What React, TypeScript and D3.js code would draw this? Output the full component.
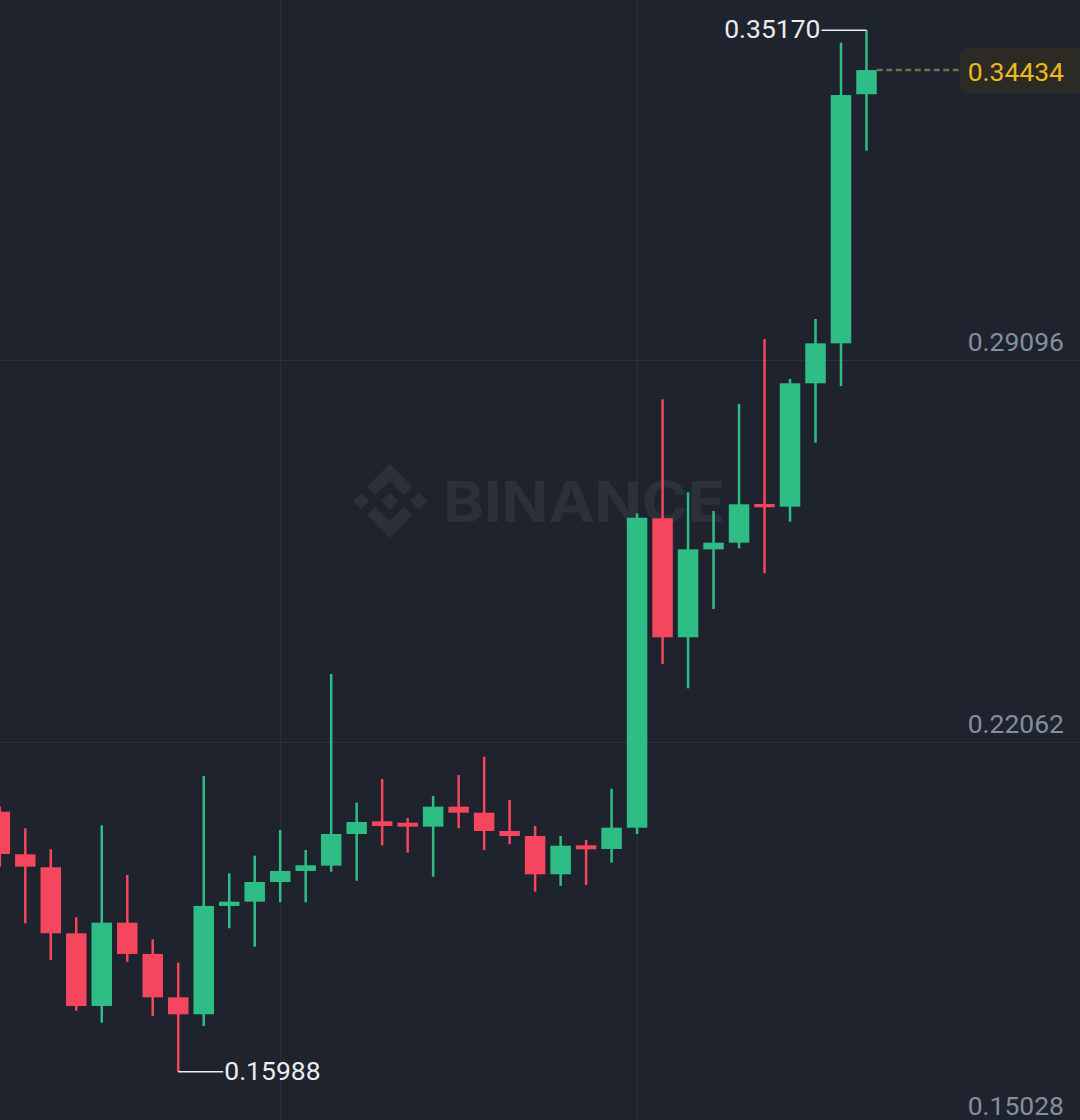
import React, { useEffect } from "react";
import * as d3 from "d3";

const opens = [0.20779, 0.19994, 0.19755, 0.1854, 0.17201, 0.18735, 0.18159, 0.17361, 0.17048, 0.19043, 0.19122, 0.19484, 0.19687, 0.19785, 0.20368, 0.20602, 0.20576, 0.20503, 0.20871, 0.2076, 0.20423, 0.20331, 0.19626, 0.2016, 0.20092, 0.20484, 0.26181, 0.2399, 0.2561, 0.25732, 0.26445, 0.26395, 0.28667, 0.29403, 0.3399];
const highs = [0.20871, 0.20473, 0.20086, 0.18834, 0.20528, 0.19613, 0.18429, 0.17999, 0.21436, 0.19645, 0.19969, 0.20442, 0.20074, 0.23314, 0.20945, 0.21381, 0.20663, 0.21068, 0.21455, 0.21792, 0.20994, 0.20516, 0.20331, 0.20258, 0.21202, 0.26273, 0.28372, 0.2666, 0.26316, 0.28286, 0.29483, 0.28746, 0.29851, 0.34938, 0.3517];
const lows = [0.19766, 0.18724, 0.18048, 0.17115, 0.16894, 0.18017, 0.17017, 0.15988, 0.16833, 0.18632, 0.18293, 0.19111, 0.19111, 0.19674, 0.19508, 0.2016, 0.20024, 0.19582, 0.20473, 0.20074, 0.20179, 0.19306, 0.19411, 0.19429, 0.1984, 0.20368, 0.23498, 0.23051, 0.24511, 0.25629, 0.25168, 0.26119, 0.27573, 0.28617, 0.3295];
const closes = [0.2, 0.19766, 0.1854, 0.17201, 0.18735, 0.18159, 0.17361, 0.17048, 0.19043, 0.19122, 0.19484, 0.19687, 0.19792, 0.20368, 0.20589, 0.20516, 0.20503, 0.20871, 0.2076, 0.20423, 0.20331, 0.19626, 0.20153, 0.20086, 0.20484, 0.26192, 0.2399, 0.2561, 0.25732, 0.26439, 0.26384, 0.28667, 0.29403, 0.33975, 0.34434];

const yTicks = [0.29096, 0.22062, 0.15028];
const xGridCandles = [11, 25];
const highLabel = "0.35170";
const lowLabel = "0.15988";
const lastPrice = 0.34434;
const lastLabel = "0.34434";

const W = 1080;
const H = 1120;
const BG = "#1f232d";
const GREEN = "#2ebd85";
const RED = "#f6465d";

export default function App() {
  useEffect(() => {
    document.body.style.margin = "0";
    document.body.style.background = BG;
  }, []);

  const n = opens.length;
  const x = d3.scaleLinear().domain([0, n - 1]).range([-0.2, 866.5]);
  const y = d3.scaleLinear().domain([0.22062, 0.29096]).range([742, 360]);
  const bodyW = 20.5;
  const wickW = 2.5;

  const hiIdx = d3.maxIndex(highs);
  const loIdx = d3.minIndex(lows);

  const font = "Roboto, 'Noto Sans', sans-serif";

  return (
    <svg width={W} height={H} style={{ display: "block", position: "absolute", left: 0, top: 0 }}>
      <rect x={0} y={0} width={W} height={H} fill={BG} />
      {/* grid */}
      {yTicks.map((t) => (
        <line key={"gy" + t} x1={0} x2={W} y1={Math.round(y(t)) + 0.5} y2={Math.round(y(t)) + 0.5} stroke="#2b303b" strokeWidth={1} />
      ))}
      {xGridCandles.map((i) => (
        <line key={"gx" + i} x1={Math.round(x(i)) + 0.5} x2={Math.round(x(i)) + 0.5} y1={0} y2={H} stroke="#2b303b" strokeWidth={1} />
      ))}
      {/* watermark */}
      <g fill="#2b303b" transform="translate(353,464) scale(0.585)">
        <path d="M38.171 53.203l24.588-24.587 24.601 24.6 14.307-14.307L62.759 0 23.864 38.896z" />
        <path d="M0 63.31l14.307-14.31 14.307 14.307-14.307 14.307z" />
        <path d="M38.171 73.42l24.588 24.587 24.6-24.6 14.315 14.3-.007.008-38.908 38.902-38.896-38.895-.02-.02z" />
        <path d="M97.989 63.313l14.307-14.307 14.306 14.306-14.306 14.307z" />
        <path d="M77.271 63.306h.006L62.759 48.788 52.03 59.517l-1.233 1.232-2.541 2.542-.02.02.02.02 14.502 14.501 14.518-14.518.007-.008z" />
      </g>
      <text x={443} y={522} fill="#2b303b" fontFamily="Inter, Roboto, sans-serif" fontWeight={700} fontSize={56} textLength={282} lengthAdjust="spacingAndGlyphs">
        BINANCE
      </text>
      {/* candles */}
      {opens.map((o, i) => {
        const c = closes[i];
        const up = c >= o;
        const col = up ? GREEN : RED;
        const cx = x(i);
        const top = y(Math.max(o, c));
        const bot = y(Math.min(o, c));
        const h = Math.max(bot - top, 2);
        return (
          <g key={i}>
            <rect x={cx - wickW / 2} y={y(highs[i])} width={wickW} height={y(lows[i]) - y(highs[i])} fill={col} />
            <rect x={cx - bodyW / 2} y={top} width={bodyW} height={h} fill={col} />
          </g>
        );
      })}
      {/* high marker */}
      <line x1={x(hiIdx)} x2={x(hiIdx) - 45} y1={y(highs[hiIdx])} y2={y(highs[hiIdx])} stroke="#eaecef" strokeWidth={1.5} />
      <text x={x(hiIdx) - 46} y={y(highs[hiIdx]) + 8} fill="#eaecef" fontFamily={font} fontSize={26.5} textAnchor="end">
        {highLabel}
      </text>
      {/* low marker */}
      <line x1={x(loIdx)} x2={x(loIdx) + 45} y1={y(lows[loIdx])} y2={y(lows[loIdx])} stroke="#eaecef" strokeWidth={1.5} />
      <text x={x(loIdx) + 46} y={y(lows[loIdx]) + 8} fill="#eaecef" fontFamily={font} fontSize={26.5} textAnchor="start">
        {lowLabel}
      </text>
      {/* y labels */}
      {yTicks.map((t) => (
        <text key={"ty" + t} x={1064} y={y(t) - 9} fill="#848e9c" fontFamily={font} fontSize={26.5} textAnchor="end">
          {t.toFixed(5)}
        </text>
      ))}
      {/* last price */}
      <line x1={x(n - 1) + bodyW / 2} x2={960} y1={y(lastPrice)} y2={y(lastPrice)} stroke="#76704f" strokeWidth={2.5} strokeDasharray="6,3.5" />
      <rect x={960} y={y(lastPrice) - 22} width={126} height={45} rx={6} fill="#2b2a25" />
      <text x={1064} y={y(lastPrice) + 10.5} fill="#ecb920" fontFamily={font} fontSize={26.5} textAnchor="end">
        {lastLabel}
      </text>
    </svg>
  );
}
